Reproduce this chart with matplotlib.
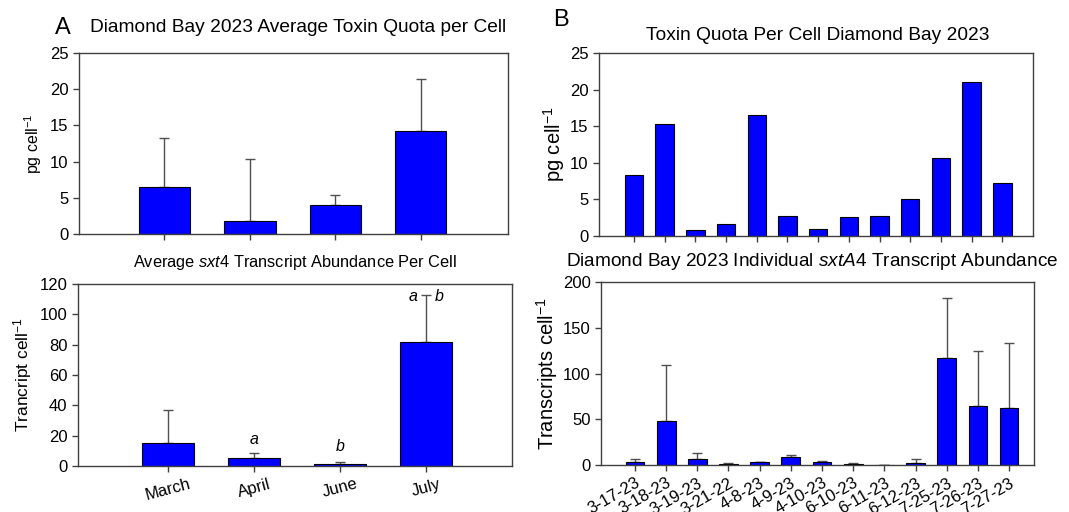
import matplotlib
matplotlib.use("Agg")
import matplotlib.pyplot as plt
import numpy as np

plt.rcParams['font.family'] = ['Liberation Sans', 'DejaVu Sans']
plt.rcParams['mathtext.fontset'] = 'custom'
plt.rcParams['mathtext.rm'] = 'Liberation Sans'
plt.rcParams['mathtext.it'] = 'Liberation Sans:italic'
plt.rcParams['mathtext.bf'] = 'Liberation Sans:bold'

# Panel A data
months = ["March", "April", "June", "July"]
toxin_avg = [6.5, 1.8, 4.0, 14.2]
toxin_avg_err = [6.8, 8.6, 1.4, 7.2]
transcript_avg = [15.0, 5.0, 1.5, 82.0]
transcript_avg_err = [22.0, 3.5, 1.0, 31.0]

# Panel B data
dates = ["3-17-23", "3-18-23", "3-19-23", "3-21-22", "4-8-23", "4-9-23", "4-10-23",
         "6-10-23", "6-11-23", "6-12-23", "7-25-23", "7-26-23", "7-27-23"]
toxin_ind = [8.3, 15.3, 0.8, 1.6, 16.5, 2.8, 0.9, 2.6, 2.8, 5.1, 10.7, 21.1, 7.3]
transcript_ind = [3.6, 48.0, 6.6, 1.5, 3.0, 9.0, 3.6, 1.5, 0.2, 2.5, 117.0, 64.6, 62.8]
transcript_ind_err = [2.6, 61.5, 6.4, 0.7, 0.3, 2.0, 0.4, 1.0, 0.3, 3.7, 66.0, 60.4, 70.2]

W, H = 1069, 512
fig = plt.figure(figsize=(W / 100, H / 100), dpi=100)

def ax_px(l, r, t, b):
    return fig.add_axes([l / W, 1 - b / H, (r - l) / W, (b - t) / H])

BLUE = "#0000ff"
SPINE = "#404040"
ERRC = "#505050"
TICKFS = 12
CAP = 3.6

def style(ax):
    for s in ax.spines.values():
        s.set_color(SPINE)
        s.set_linewidth(1.0)
    ax.tick_params(direction="out", length=4, width=1, color=SPINE, labelsize=TICKFS)

# A top
ax1 = ax_px(79, 508, 53, 234)
x = np.arange(len(months))
ax1.bar(x, toxin_avg, width=0.6, color=BLUE, edgecolor="black", linewidth=0.8, zorder=2)
ax1.errorbar(x, toxin_avg, yerr=[np.zeros(len(x)), toxin_avg_err], fmt="none",
             ecolor=ERRC, elinewidth=1, capsize=CAP, capthick=1, zorder=1)
ax1.set_xlim(-1, 4.02)
ax1.set_ylim(0, 25)
ax1.set_yticks([0, 5, 10, 15, 20, 25])
ax1.set_xticks(x)
ax1.set_xticklabels([])
ax1.set_ylabel("pg cell$^{-1}$", fontsize=11.5)
style(ax1)
fig.text(55 / W, 1 - 28 / H, "A", fontsize=17, va="center", ha="left")
fig.text(90 / W, 1 - 27 / H, "Diamond Bay 2023 Average Toxin Quota per Cell",
         fontsize=13.8, va="center", ha="left")

# A bottom
ax2 = ax_px(78, 512, 284, 466)
ax2.bar(x, transcript_avg, width=0.6, color=BLUE, edgecolor="black", linewidth=0.8, zorder=2)
ax2.errorbar(x, transcript_avg, yerr=[np.zeros(len(x)), transcript_avg_err], fmt="none",
             ecolor=ERRC, elinewidth=1, capsize=CAP, capthick=1, zorder=1)
ax2.set_xlim(-1.05, 4.0)
ax2.set_ylim(0, 120)
ax2.set_yticks([0, 20, 40, 60, 80, 100, 120])
ax2.set_xticks(x)
ax2.set_xticklabels(months, rotation=15, ha="center")
ax2.set_ylabel("Trancript cell$^{-1}$", fontsize=12.5)
style(ax2)
ax2.text(1, 17.2, "a", style="italic", fontsize=11.5, ha="center", va="center")
ax2.text(2, 12.8, "b", style="italic", fontsize=11.5, ha="center", va="center")
ax2.text(2.85, 112, "a", style="italic", fontsize=11.5, ha="center", va="center")
ax2.text(3.15, 112, "b", style="italic", fontsize=11.5, ha="center", va="center")
fig.text(295 / W, 1 - 262 / H, "Average $\\it{sxt4}$ Transcript Abundance Per Cell",
         fontsize=11.8, va="center", ha="center")

# B top
ax3 = ax_px(599, 1033, 53, 236)
xb = np.arange(len(dates))
ax3.bar(xb, toxin_ind, width=0.6, color=BLUE, edgecolor="black", linewidth=0.8, zorder=2)
ax3.set_xlim(-1.14, 13.0)
ax3.set_ylim(0, 25)
ax3.set_yticks([0, 5, 10, 15, 20, 25])
ax3.set_xticks(xb)
ax3.set_xticklabels([])
ax3.set_ylabel("pg cell$^{-1}$", fontsize=14.5, labelpad=2)
style(ax3)
fig.text(553 / W, 1 - 20 / H, "B", fontsize=17, va="center", ha="left")
fig.text(818 / W, 1 - 35 / H, "Toxin Quota Per Cell Diamond Bay 2023",
         fontsize=13.8, va="center", ha="center")

# B bottom
ax4 = ax_px(601, 1034, 282, 465)
ax4.bar(xb, transcript_ind, width=0.6, color=BLUE, edgecolor="black", linewidth=0.8, zorder=2)
ax4.errorbar(xb, transcript_ind, yerr=[np.zeros(len(xb)), transcript_ind_err], fmt="none",
             ecolor=ERRC, elinewidth=1, capsize=CAP, capthick=1, zorder=1)
ax4.set_xlim(-1.09, 12.8)
ax4.set_ylim(0, 200)
ax4.set_yticks([0, 50, 100, 150, 200])
ax4.set_xticks(xb)
ax4.set_xticklabels(dates, rotation=30, ha="right", rotation_mode="anchor")
ax4.set_ylabel("Transcripts cell$^{-1}$", fontsize=14.5, labelpad=2)
style(ax4)
fig.text(566 / W, 1 - 262 / H, "Diamond Bay 2023 Individual $\\it{sxtA4}$ Transcript Abundance",
         fontsize=13.7, va="center", ha="left")

fig.savefig("out.png", dpi=100)
